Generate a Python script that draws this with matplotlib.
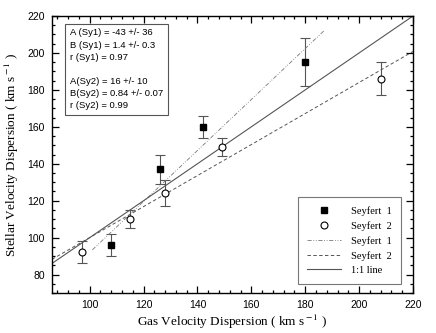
import matplotlib
matplotlib.use("Agg")
import matplotlib.pyplot as plt
from matplotlib.ticker import MultipleLocator

# Seyfert 1 (filled squares) and Seyfert 2 (open circles)
sy1_gas = [108, 126, 142, 180]
sy1_star = [96, 137, 160, 195]
sy1_err = [6, 8, 6, 13]

sy2_gas = [97, 115, 128, 149, 208]
sy2_star = [92, 110, 124, 149, 186]
sy2_err = [6, 5, 7, 5, 9]

# fitted lines: (intercept, slope, x range)
sy1_line = (-46, 1.38, (101, 187))
sy2_line = (16, 0.84, (86, 220))
one_to_one = (86, 220)

fit_text = ("A (Sy1) = -43 +/- 36\nB (Sy1) = 1.4 +/- 0.3\nr (Sy1) = 0.97\n\n"
            "A(Sy2) = 16 +/- 10\nB(Sy2) = 0.84 +/- 0.07\nr (Sy2) = 0.99")

plt.rcParams["font.family"] = ["Liberation Sans", "DejaVu Sans"]
plt.rcParams["mathtext.fontset"] = "stix"

fig = plt.figure(figsize=(4.36, 3.33), dpi=100)
ax = fig.add_axes([52 / 436, 40 / 333, 361 / 436, 277 / 333])

gray = "#555555"

ax.errorbar(sy1_gas, sy1_star, yerr=sy1_err, fmt="none", ecolor=gray,
            elinewidth=0.8, capsize=3.5, capthick=0.8, zorder=2)
ax.errorbar(sy2_gas, sy2_star, yerr=sy2_err, fmt="none", ecolor=gray,
            elinewidth=0.8, capsize=3.5, capthick=0.8, zorder=2)

ax.plot(sy1_gas, sy1_star, "s", color="black", ms=4.5, ls="none",
        label="Seyfert  1", zorder=3)
ax.plot(sy2_gas, sy2_star, "o", mfc="white", mec="black", mew=0.8, ms=5,
        ls="none", label="Seyfert  2", zorder=3)

a, b, (x0, x1) = sy1_line
ax.plot([x0, x1], [a + b * x0, a + b * x1], color="#777777", lw=0.6,
        ls=(0, (5, 2, 1, 2, 1, 2)), label="Seyfert  1")
a, b, (x0, x1) = sy2_line
ax.plot([x0, x1], [a + b * x0, a + b * x1], color=gray, lw=0.7,
        ls=(0, (3.5, 2.5)), label="Seyfert  2")
ax.plot(one_to_one, one_to_one, color=gray, lw=0.8, label="1:1 line")

ax.set_xlim(86, 220)
ax.set_ylim(70, 220)
ax.xaxis.set_major_locator(MultipleLocator(20))
ax.xaxis.set_minor_locator(MultipleLocator(4))
ax.yaxis.set_major_locator(MultipleLocator(20))
ax.yaxis.set_minor_locator(MultipleLocator(5))
ax.tick_params(which="both", direction="in", top=True, right=True,
               labelsize=7.5, width=0.9)
ax.tick_params(which="major", length=5, pad=5)
ax.tick_params(which="minor", length=2.5)
for s in ax.spines.values():
    s.set_linewidth(1.0)

ax.set_xlabel("Gas Velocity Dispersion ( km s$^{\\rm -1}$ )",
              family="Liberation Serif", fontsize=9.5, labelpad=2)
ax.set_ylabel("Stellar Velocity Dispersion ( km s$^{\\rm -1}$ )",
              family="Liberation Serif", fontsize=9.5, labelpad=5)

ax.text(0.05, 0.955, fit_text, transform=ax.transAxes, fontsize=6.8,
        va="top", ha="left", linespacing=1.45,
        bbox=dict(boxstyle="square,pad=0.5", fc="white", ec=gray, lw=0.8))

leg = ax.legend(loc="lower right", bbox_to_anchor=(0.967, 0.031),
                borderaxespad=0, fancybox=False, edgecolor=gray,
                prop={"family": "Liberation Serif", "size": 7.5},
                handlelength=3.2, labelspacing=0.5, borderpad=0.9,
                handletextpad=1.0)
leg.get_frame().set_linewidth(0.8)

fig.savefig("out.png", dpi=100)
